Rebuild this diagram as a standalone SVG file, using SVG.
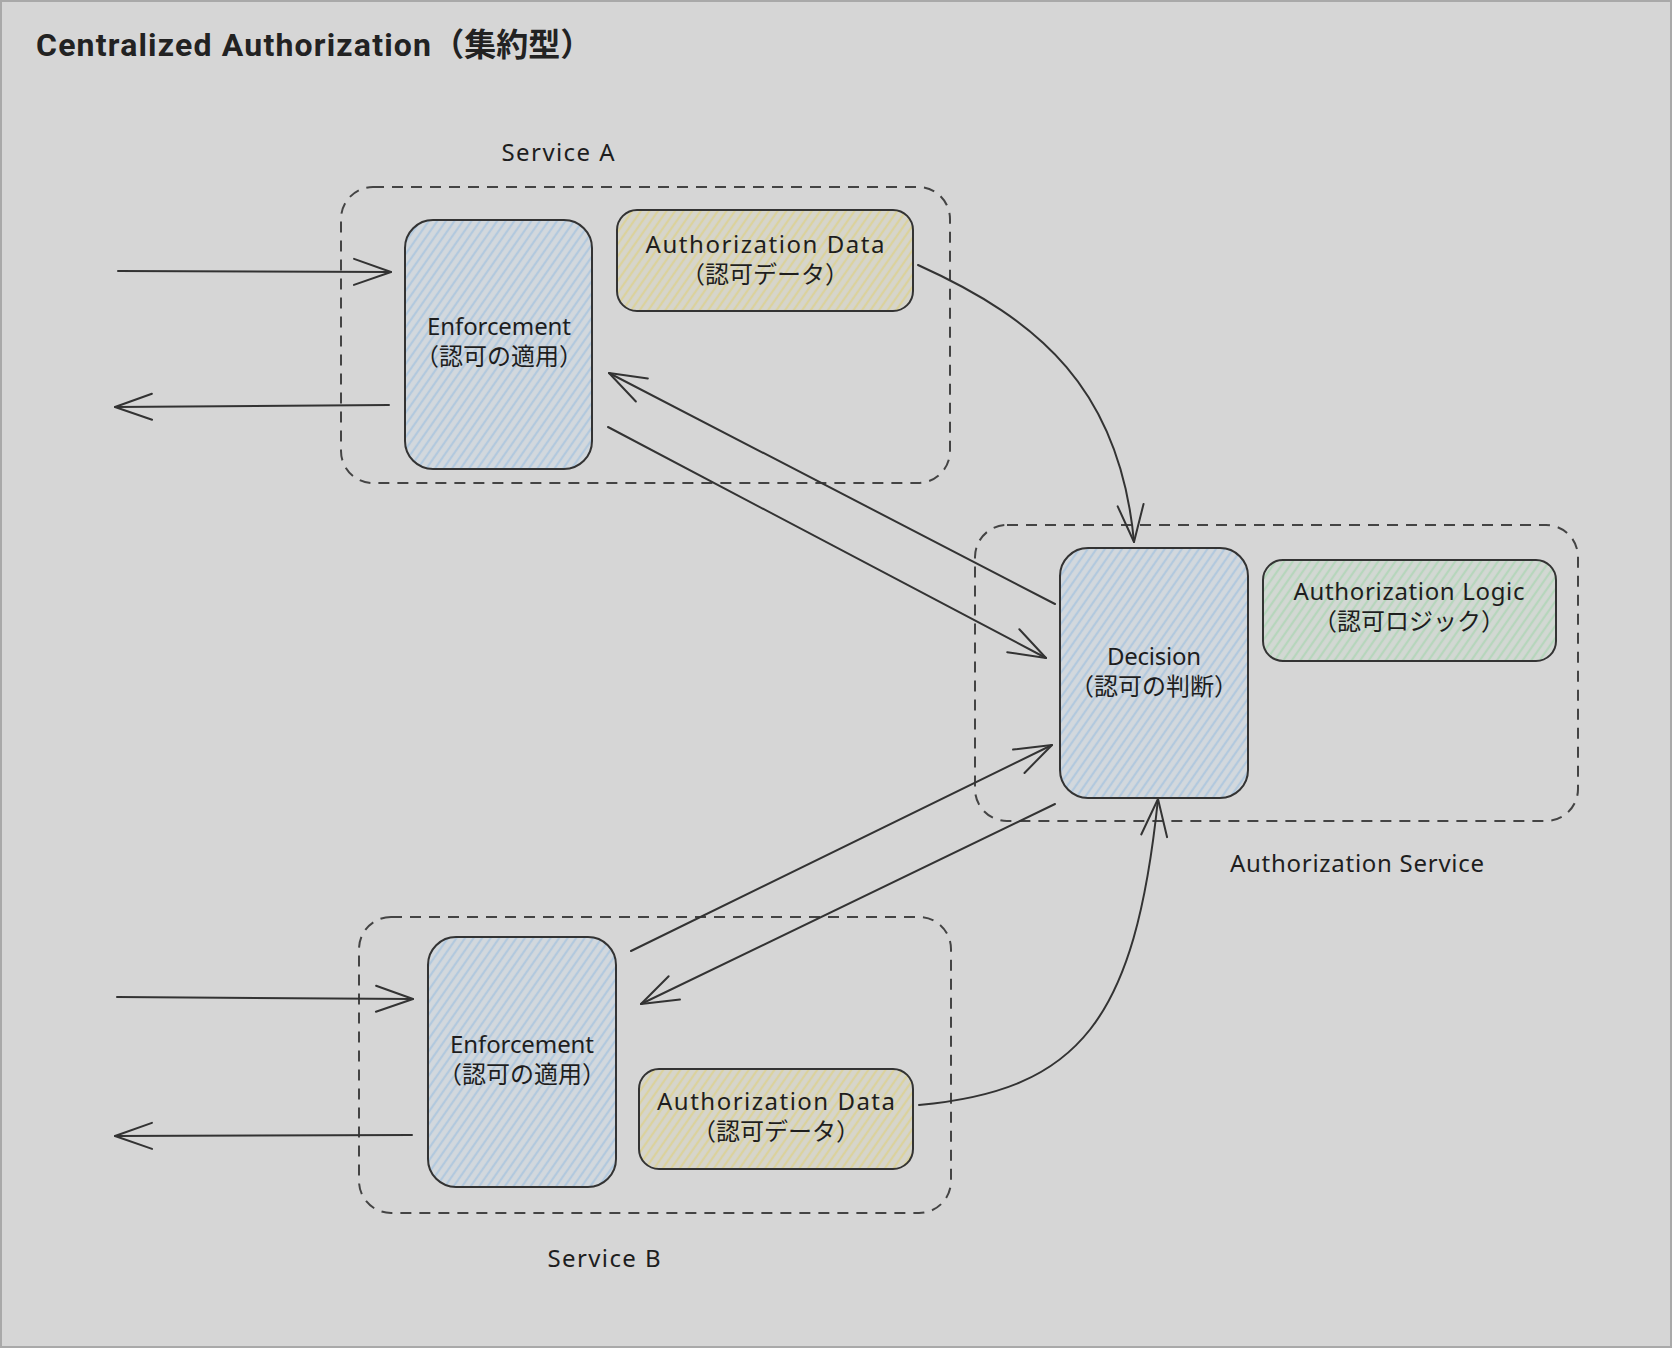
<svg xmlns="http://www.w3.org/2000/svg" width="1672" height="1348" viewBox="0 0 1672 1348">
<defs>
<style>
.title{font-family:Roboto,"Noto Sans CJK JP",sans-serif;font-weight:700;font-size:32px;fill:#222}
.lbl{font-family:"Noto Sans","Noto Sans CJK JP",sans-serif;font-size:24px;fill:#1e1e1e;text-anchor:middle}
.grp{fill:none;stroke:#444;stroke-width:2;stroke-dasharray:11 8}
.node{stroke:#333;stroke-width:2}
.con{fill:none;stroke:#333;stroke-width:2;stroke-linecap:round}
</style>
<pattern id="hBlue" width="7" height="7" patternUnits="userSpaceOnUse" patternTransform="rotate(35)">
<rect width="7" height="7" fill="#d2d8dd"/><line x1="2" y1="0" x2="2" y2="7" stroke="#b2c9de" stroke-width="2.2"/>
</pattern>
<pattern id="hYellow" width="7" height="7" patternUnits="userSpaceOnUse" patternTransform="rotate(35)">
<rect width="7" height="7" fill="#d6d5cb"/><line x1="2" y1="0" x2="2" y2="7" stroke="#dbd29c" stroke-width="2.2"/>
</pattern>
<pattern id="hGreen" width="7" height="7" patternUnits="userSpaceOnUse" patternTransform="rotate(35)">
<rect width="7" height="7" fill="#d2d8d3"/><line x1="2" y1="0" x2="2" y2="7" stroke="#b6d6bc" stroke-width="2.2"/>
</pattern>
<marker id="arr" markerUnits="userSpaceOnUse" markerWidth="60" markerHeight="60" viewBox="-45 -30 60 60" refX="0" refY="0" orient="auto" overflow="visible">
<path d="M -37 -13 L 0 0 L -37 13" fill="none" stroke="#333" stroke-width="2" stroke-linecap="round" stroke-linejoin="round"/>
</marker>
</defs>
<rect x="0" y="0" width="1672" height="1348" fill="#d6d6d6"/>
<rect x="1" y="1" width="1670" height="1346" fill="none" stroke="#a9a9a9" stroke-width="2"/>
<text class="title" x="36" y="56"><tspan textLength="395" lengthAdjust="spacing">Centralized Authorization</tspan>（集約型）</text>

<g id="service-a">
<rect class="grp" x="341" y="187" width="609" height="296" rx="32"/>
<text class="lbl" x="558" y="161" textLength="113" lengthAdjust="spacing">Service A</text>
</g>
<g id="enforcement-a">
<rect class="node" x="405" y="220" width="187" height="249" rx="28" fill="url(#hBlue)"/>
<text class="lbl" x="499" y="335" textLength="144" lengthAdjust="spacing">Enforcement</text>
<text class="lbl" x="499" y="365">（認可の適用）</text>
</g>
<g id="authdata-a">
<rect class="node" x="617" y="210" width="296" height="101" rx="20" fill="url(#hYellow)"/>
<text class="lbl" x="765" y="253" textLength="239" lengthAdjust="spacing">Authorization Data</text>
<text class="lbl" x="765" y="283">（認可データ）</text>
</g>

<g id="authorization-service">
<rect class="grp" x="975" y="525" width="603" height="296" rx="32"/>
<text class="lbl" x="1357" y="872" textLength="254" lengthAdjust="spacing">Authorization Service</text>
</g>
<g id="decision">
<rect class="node" x="1060" y="548" width="188" height="250" rx="28" fill="url(#hBlue)"/>
<text class="lbl" x="1154" y="665" textLength="94" lengthAdjust="spacing">Decision</text>
<text class="lbl" x="1154" y="695">（認可の判断）</text>
</g>
<g id="authlogic">
<rect class="node" x="1263" y="560" width="293" height="101" rx="20" fill="url(#hGreen)"/>
<text class="lbl" x="1409" y="600" textLength="231" lengthAdjust="spacing">Authorization Logic</text>
<text class="lbl" x="1409" y="630">（認可ロジック）</text>
</g>

<g id="service-b">
<rect class="grp" x="359" y="917" width="592" height="296" rx="32"/>
<text class="lbl" x="604" y="1267" textLength="113" lengthAdjust="spacing">Service B</text>
</g>
<g id="enforcement-b">
<rect class="node" x="428" y="937" width="188" height="250" rx="28" fill="url(#hBlue)"/>
<text class="lbl" x="522" y="1053" textLength="144" lengthAdjust="spacing">Enforcement</text>
<text class="lbl" x="522" y="1083">（認可の適用）</text>
</g>
<g id="authdata-b">
<rect class="node" x="639" y="1069" width="274" height="100" rx="20" fill="url(#hYellow)"/>
<text class="lbl" x="776" y="1110" textLength="238" lengthAdjust="spacing">Authorization Data</text>
<text class="lbl" x="776" y="1140">（認可データ）</text>
</g>

<g id="connectors">
<line class="con" x1="118" y1="271" x2="391" y2="272" marker-end="url(#arr)"/>
<line class="con" x1="389" y1="405" x2="115" y2="407" marker-end="url(#arr)"/>
<line class="con" x1="1055" y1="604" x2="609" y2="373" marker-end="url(#arr)"/>
<line class="con" x1="608" y1="427" x2="1046" y2="658" marker-end="url(#arr)"/>
<path class="con" d="M 918 265 C 1040 320, 1120 390, 1134 542" marker-end="url(#arr)"/>
<line class="con" x1="117" y1="997" x2="413" y2="999" marker-end="url(#arr)"/>
<line class="con" x1="412" y1="1135" x2="115" y2="1136" marker-end="url(#arr)"/>
<line class="con" x1="631" y1="951" x2="1052" y2="745" marker-end="url(#arr)"/>
<line class="con" x1="1055" y1="804" x2="641" y2="1004" marker-end="url(#arr)"/>
<path class="con" d="M 919 1105 C 1080 1090, 1135 1020, 1158 799" marker-end="url(#arr)"/>
</g>
</svg>
